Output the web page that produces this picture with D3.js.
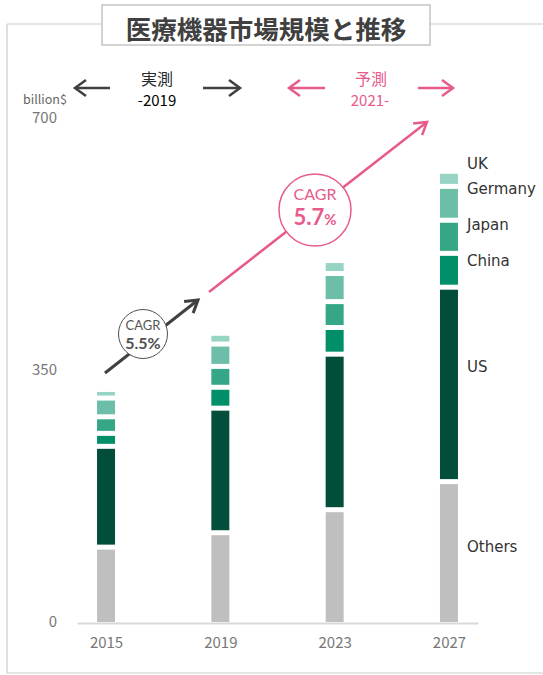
<!DOCTYPE html>
<html>
<head>
<meta charset="utf-8">
<script src="https://cdn.jsdelivr.net/npm/d3@7"></script>
<style>
  body { margin: 0; background: #fff; }
  svg { display: block; }
</style>
</head>
<body>
<div id="chart"></div>
<script>
// Chart data (billion$)
const years = ["2015", "2019", "2023", "2027"];
const regions = ["Others", "US", "China", "Japan", "Germany", "UK"];
const others = [104, 124, 156, 195];
const us = [140, 173, 216, 270];
const china = [18, 29, 37, 47];
const japan = [23, 29, 36, 46];
const germany = [26, 31, 39, 47];
const uk = [12, 15, 18, 21];
const yTicks = [0, 350, 700];
const colors = ["#bfbfbf", "#034e3a", "#008f68", "#35a787", "#6cbea8", "#98d4c4"];

const width = 543, height = 675;
const jp = "'Noto Sans CJK JP', sans-serif";

const svg = d3.select("#chart").append("svg")
  .attr("width", width)
  .attr("height", height);

// Build table for the stack
const table = years.map((yr, i) => ({
  year: yr, Others: others[i], US: us[i], China: china[i],
  Japan: japan[i], Germany: germany[i], UK: uk[i]
}));
const series = d3.stack().keys(regions)(table);

const x = d3.scalePoint().domain(years).range([77, 478]).padding(0.254);
const y = d3.scaleLinear().domain([0, 700]).range([622, 118]);
const color = d3.scaleOrdinal().domain(regions).range(colors);

// Outer frame
svg.append("path")
  .attr("d", "M7,24 V673 H560 M7,24 H560")
  .attr("fill", "none")
  .attr("stroke", "#cccccc")
  .attr("stroke-width", 1.2);

// Title box
svg.append("rect")
  .attr("x", 102).attr("y", 5)
  .attr("width", 328).attr("height", 40)
  .attr("fill", "#fff")
  .attr("stroke", "#c4c4c4")
  .attr("stroke-width", 1.5);
svg.append("text")
  .attr("x", 266).attr("y", 27)
  .attr("text-anchor", "middle")
  .attr("dominant-baseline", "central")
  .style("font-family", jp)
  .style("font-weight", 700)
  .style("font-size", "25.5px")
  .attr("fill", "#404040")
  .text("医療機器市場規模と推移");

// Header arrows
function headerArrow(x1, x2, yy, col) {
  const dir = Math.sign(x2 - x1);
  svg.append("line")
    .attr("x1", x1).attr("y1", yy).attr("x2", x2).attr("y2", yy)
    .attr("stroke", col).attr("stroke-width", 2.5);
  svg.append("path")
    .attr("d", `M${x2 - dir * 11},${yy - 8} L${x2},${yy} L${x2 - dir * 11},${yy + 8}`)
    .attr("fill", "none").attr("stroke", col).attr("stroke-width", 2.5);
}
headerArrow(110, 75, 88, "#404040");
headerArrow(203, 240, 88, "#404040");
headerArrow(325, 289, 88, "#e75a8a");
headerArrow(418, 453, 88, "#e75a8a");

svg.append("text").attr("x", 157).attr("y", 85)
  .attr("text-anchor", "middle")
  .style("font-family", jp).style("font-size", "16px")
  .attr("fill", "#262626").text("実測");
svg.append("text").attr("x", 157).attr("y", 106)
  .attr("text-anchor", "middle")
  .style("font-family", jp).style("font-size", "15px")
  .attr("fill", "#000").text("-2019");
svg.append("text").attr("x", 371).attr("y", 85)
  .attr("text-anchor", "middle")
  .style("font-family", jp).style("font-size", "16px")
  .attr("fill", "#e75a8a").text("予測");
svg.append("text").attr("x", 370).attr("y", 106)
  .attr("text-anchor", "middle")
  .style("font-family", jp).style("font-size", "15px")
  .attr("fill", "#e75a8a").text("2021-");

// Unit label
svg.append("text").attr("x", 45).attr("y", 104)
  .attr("text-anchor", "middle")
  .style("font-family", jp).style("font-size", "12.5px")
  .attr("fill", "#666").text("billion$");

// Y axis labels
const yAxis = svg.append("g")
  .attr("transform", "translate(60,0)")
  .call(d3.axisLeft(y).tickValues(yTicks).tickSize(0).tickPadding(3));
yAxis.select(".domain").remove();
yAxis.selectAll("text")
  .style("font-family", jp).style("font-size", "15px")
  .attr("fill", "#777");

// X axis
const xAxis = svg.append("g")
  .attr("transform", "translate(0,623)")
  .call(d3.axisBottom(x).tickSize(0).tickSizeOuter(0).tickPadding(14));
xAxis.select(".domain").attr("stroke", "#d9d9d9").attr("stroke-width", 2);
xAxis.selectAll("text")
  .style("font-family", jp).style("font-size", "15px")
  .attr("fill", "#777");

// Stacked bars with white gaps between segments
const barW = 18, gap = 5;
svg.append("g")
  .selectAll("g")
  .data(series)
  .join("g")
  .attr("fill", d => color(d.key))
  .selectAll("rect")
  .data(d => d)
  .join("rect")
  .attr("x", d => x(d.data.year) - barW / 2)
  .attr("y", d => y(d[1]) + gap / 2)
  .attr("height", d => (d[0] === 0 ? y(d[0]) : y(d[0]) - gap / 2) - (y(d[1]) + gap / 2))
  .attr("width", barW);

// Region labels beside the last bar (nudged up from segment centre)
const last = years.length - 1;
const labelNudge = { Others: -5, US: -17, China: -9, Japan: -12, Germany: -14, UK: -15 };
svg.append("g")
  .selectAll("text")
  .data(series)
  .join("text")
  .attr("x", x(years[last]) + 18)
  .attr("y", d => (y(d[last][0]) + y(d[last][1])) / 2 + labelNudge[d.key])
  .attr("dominant-baseline", "central")
  .style("font-family", "'DejaVu Sans', sans-serif")
  .style("font-size", "15px")
  .attr("fill", "#333")
  .text(d => d.key);

// CAGR arrows
function cagrArrow(x1, y1, x2, y2, col, sw) {
  const ang = Math.atan2(y2 - y1, x2 - x1);
  const hl = 14, ha = 0.55;
  svg.append("line")
    .attr("x1", x1).attr("y1", y1).attr("x2", x2).attr("y2", y2)
    .attr("stroke", col).attr("stroke-width", sw);
  svg.append("path")
    .attr("d", `M${x2 - hl * Math.cos(ang - ha)},${y2 - hl * Math.sin(ang - ha)} L${x2},${y2} L${x2 - hl * Math.cos(ang + ha)},${y2 - hl * Math.sin(ang + ha)}`)
    .attr("fill", "none").attr("stroke", col).attr("stroke-width", sw);
}
cagrArrow(105, 373, 198, 300, "#404040", 3);
cagrArrow(209, 292, 427, 122, "#e75a8a", 2.5);

// CAGR circles
svg.append("circle").attr("cx", 143).attr("cy", 334).attr("r", 24.5)
  .attr("fill", "#fff").attr("stroke", "#505050").attr("stroke-width", 1);
svg.append("text").attr("x", 143).attr("y", 330)
  .attr("text-anchor", "middle")
  .style("font-family", "Lato, sans-serif").style("font-size", "13px")
  .attr("fill", "#555").text("CAGR");
svg.append("text").attr("x", 143).attr("y", 349)
  .attr("text-anchor", "middle")
  .style("font-family", "Lato, sans-serif").style("font-size", "16px")
  .style("font-weight", 700)
  .attr("fill", "#505050").text("5.5%");

svg.append("circle").attr("cx", 315).attr("cy", 210).attr("r", 36)
  .attr("fill", "#fff").attr("stroke", "#e75a8a").attr("stroke-width", 1.5);
svg.append("text").attr("x", 315).attr("y", 200)
  .attr("text-anchor", "middle")
  .style("font-family", "Lato, sans-serif").style("font-size", "16px")
  .attr("fill", "#e75a8a").text("CAGR");
const pct = svg.append("text").attr("x", 315).attr("y", 225)
  .attr("text-anchor", "middle")
  .style("font-family", "Lato, sans-serif")
  .style("font-weight", 700)
  .attr("fill", "#e75a8a");
pct.append("tspan").style("font-size", "22px").text("5.7");
pct.append("tspan").style("font-size", "15px").text("%");
</script>
</body>
</html>
